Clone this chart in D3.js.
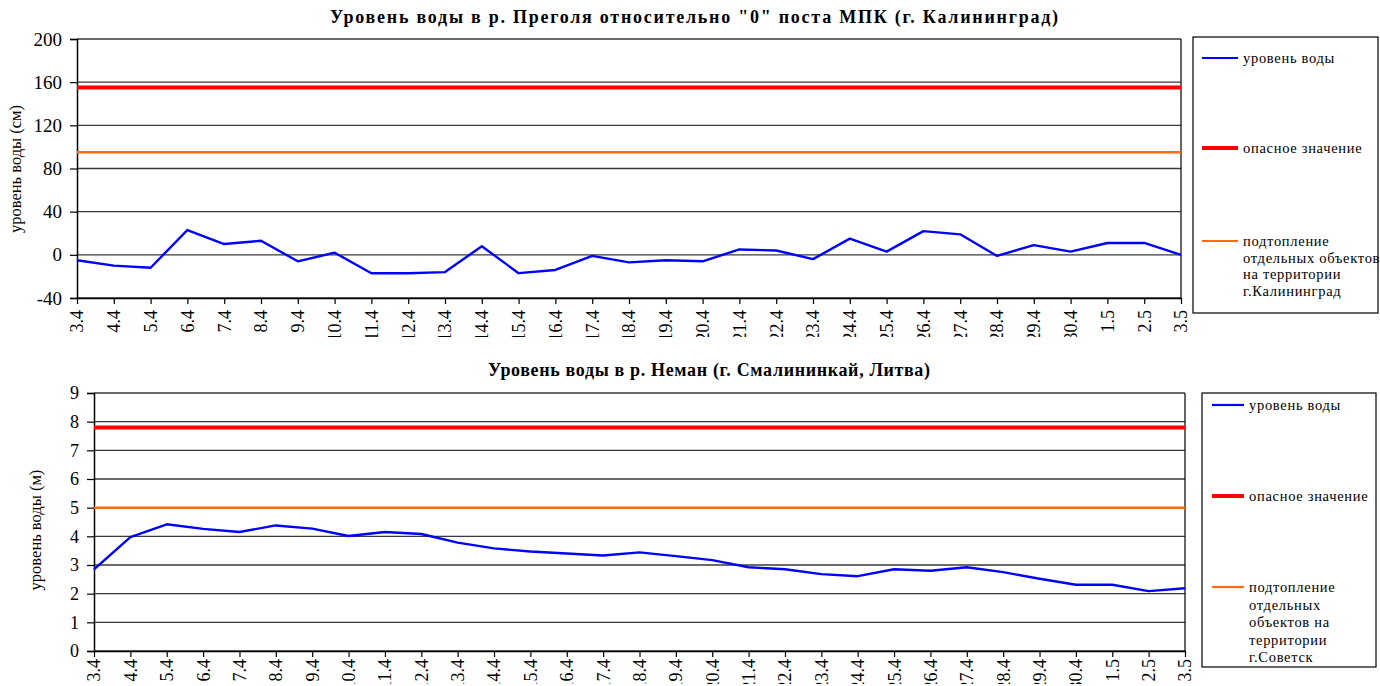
<!DOCTYPE html>
<html>
<head>
<meta charset="utf-8">
<script src="https://cdn.jsdelivr.net/npm/d3@7/dist/d3.min.js"></script>
<style>
  body { margin: 0; background: #fff; }
  svg text { font-family: "Liberation Serif", "DejaVu Serif", "Times New Roman", serif !important; }
</style>
</head>
<body>
<div id="app"></div>
<script>
// dates (same for both charts)
var dates = ["3.4","4.4","5.4","6.4","7.4","8.4","9.4","10.4","11.4","12.4","13.4","14.4","15.4","16.4","17.4",
  "18.4","19.4","20.4","21.4","22.4","23.4","24.4","25.4","26.4","27.4","28.4","29.4","30.4","1.5","2.5","3.5"];

// Преголя, см
var pregolyaLevel = [-5,-10,-12,23,10,13,-6,2,-17,-17,-16,8,-17,-14,-1,-7,-5,-6,5,4,-4,15,3,22,19,-1,9,3,11,11,0];
var pregolyaDanger = 155;
var pregolyaFlood = 95;
var pregolyaTicks = [-40,0,40,80,120,160,200];

// Неман, м
var nemanLevel = [2.85,3.97,4.42,4.26,4.15,4.38,4.27,4.01,4.15,4.08,3.78,3.58,3.47,3.40,3.33,3.44,3.31,3.17,
  2.92,2.85,2.68,2.61,2.85,2.80,2.92,2.75,2.52,2.31,2.31,2.09,2.19];
var nemanDanger = 7.8;
var nemanFlood = 5.0;
var nemanTicks = [0,1,2,3,4,5,6,7,8,9];

var svg = d3.select('#app').append('svg')
    .attr('width',1380)
    .attr('height',686);

function drawChart(o) {
  var g = svg.append('g');
  var x = d3.scalePoint().domain(dates).range([o.x0,o.x1]);
  var y = d3.scaleLinear().domain(o.domain).range([o.y1,o.y0]);

  // title
  g.append('text')
    .attr('x',o.titleX).attr('y',o.titleY)
    .attr('text-anchor','middle')
    .attr('font-weight','bold')
    .attr('font-size',18)
    .attr('textLength',o.titleW)
    .attr('lengthAdjust','spacing')
    .text(o.title);

  // grid
  g.selectAll('line.grid')
    .data(o.ticks)
  .enter().append('line')
    .attr('x1',o.x0).attr('x2',o.x1)
    .attr('y1',function(d){return y(d)}).attr('y2',function(d){return y(d)})
    .attr('stroke','#3a3a3a')
    .attr('stroke-width',1.4);

  // right border
  g.append('line')
    .attr('x1',o.x1).attr('x2',o.x1).attr('y1',o.y0).attr('y2',o.y1)
    .attr('stroke','#000').attr('stroke-width',1.2);

  // y axis
  var yAxis = g.append('g')
    .attr('transform','translate('+o.x0+',0)')
    .call(d3.axisLeft(y).tickValues(o.ticks).tickSize(7).tickPadding(8)
      .tickFormat(function(d){return String(d)}));
  yAxis.select('.domain').attr('stroke','#000').attr('stroke-width',1.5);
  yAxis.selectAll('.tick line').attr('stroke','#000').attr('stroke-width',1.2);
  yAxis.selectAll('text')
    .attr('font-size',o.yFont)
    .attr('fill','#000');

  // x axis, labels clipped at the bottom like the original picture
  var clipId = 'clip' + o.id;
  svg.append('clipPath').attr('id',clipId)
    .append('rect').attr('x',0).attr('y',0).attr('width',1380).attr('height',o.clipBottom);
  var xAxis = g.append('g')
    .attr('clip-path','url(#'+clipId+')')
  .append('g')
    .attr('transform','translate(0,'+o.y1+')')
    .call(d3.axisBottom(x).tickSize(6).tickSizeOuter(0));
  xAxis.select('.domain').attr('stroke','#000').attr('stroke-width',1.5);
  xAxis.selectAll('.tick line').attr('stroke','#000').attr('stroke-width',1.2);
  xAxis.selectAll('text')
    .attr('font-size',18)
    .attr('fill','#000')
    .attr('text-anchor','end')
    .attr('dy','0.33em')
    .attr('transform','translate(0,'+o.labelOff+') rotate(-90)')
    .attr('x',0).attr('y',0);

  // y title
  g.append('text')
    .attr('transform','translate('+o.yTitleX+','+o.yTitleY+') rotate(-90)')
    .attr('text-anchor','middle')
    .attr('font-size',16.5)
    .text(o.yTitle);

  var line = d3.line()
    .x(function(d,i){return x(dates[i])})
    .y(function(d){return y(d)});

  g.append('path')
    .datum(dates.map(function(){return o.flood}))
    .attr('d',line).attr('fill','none')
    .attr('stroke','#ff6a0d').attr('stroke-width',2.5);
  g.append('path')
    .datum(dates.map(function(){return o.danger}))
    .attr('d',line).attr('fill','none')
    .attr('stroke','#ff0000').attr('stroke-width',4);
  g.append('path')
    .datum(o.level)
    .attr('d',line).attr('fill','none')
    .attr('stroke','#0000ff').attr('stroke-width',2.4)
    .attr('stroke-linejoin','round');

  // legend
  var lg = g.append('g');
  lg.append('rect')
    .attr('x',o.lx).attr('y',o.ly).attr('width',o.lw).attr('height',o.lh)
    .attr('fill','#fff').attr('stroke','#000').attr('stroke-width',1.2);
  var items = [
    {c:'#0000ff', w:2.2, lines:['уровень воды'], y:o.legY[0]},
    {c:'#ff0000', w:4, lines:['опасное значение'], y:o.legY[1]},
    {c:'#ff6a0d', w:2.2, lines:o.floodLabel, y:o.legY[2]}
  ];
  items.forEach(function(it){
    lg.append('line')
      .attr('x1',o.lineX0).attr('x2',o.lineX1)
      .attr('y1',it.y).attr('y2',it.y)
      .attr('stroke',it.c).attr('stroke-width',it.w);
    var t = lg.append('text')
      .attr('x',o.lineX1+5).attr('y',it.y)
      .attr('font-size',14.5)
      .attr('letter-spacing',0.7);
    it.lines.forEach(function(s,k){
      t.append('tspan')
        .attr('x',o.lineX1+5)
        .attr('dy', k===0 ? '0.35em' : o.legLH)
        .text(s);
    });
  });
}

drawChart({
  id:1,
  title:'Уровень воды в р. Преголя относительно "0" поста МПК (г. Калининград)',
  titleX:694, titleY:23, titleW:728,
  x0:77, x1:1181, y0:39, y1:298,
  domain:[-40,200], ticks:pregolyaTicks, yFont:19,
  level:pregolyaLevel, danger:pregolyaDanger, flood:pregolyaFlood,
  clipBottom:337, labelOff:12,
  yTitle:'уровень воды (см)', yTitleX:21, yTitleY:169,
  lx:1193, ly:37, lw:185, lh:276,
  lineX0:1202, lineX1:1238, legY:[58,148,241], legLH:16.7,
  floodLabel:['подтопление','отдельных объектов','на территории','г.Калининград']
});

drawChart({
  id:2,
  title:'Уровень воды в р. Неман (г. Смалининкай, Литва)',
  titleX:709, titleY:376, titleW:442,
  x0:94, x1:1185, y0:393, y1:651,
  domain:[0,9], ticks:nemanTicks, yFont:18,
  level:nemanLevel, danger:nemanDanger, flood:nemanFlood,
  clipBottom:684, labelOff:8,
  yTitle:'уровень воды (м)', yTitleX:41, yTitleY:530,
  lx:1202, ly:393, lw:174, lh:274,
  lineX0:1212, lineX1:1244, legY:[405,496,587], legLH:17.5,
  floodLabel:['подтопление','отдельных','объектов на','территории','г.Советск']
});
</script>
</body>
</html>
